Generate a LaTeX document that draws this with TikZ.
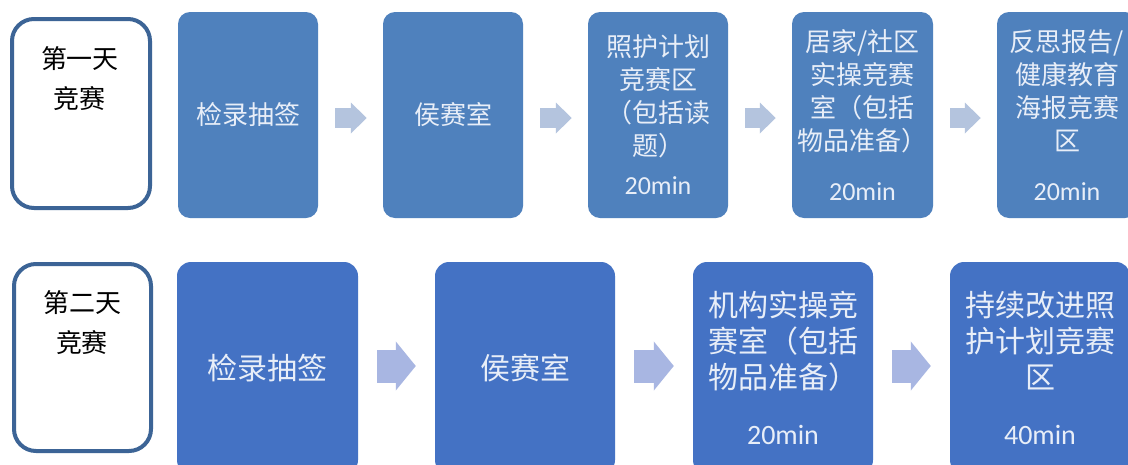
\documentclass[tikz,border=0pt]{standalone}
\usepackage{fontspec}
\setmainfont{Noto Sans CJK SC}
\newfontfamily\latinfont{Carlito}
\usetikzlibrary{positioning,arrows.meta}
\definecolor{dayblue}{HTML}{3C6496}
\definecolor{topblue}{HTML}{4F81BD}
\definecolor{botblue}{HTML}{4472C4}
\definecolor{toparrowc}{HTML}{B4C4DE}
\definecolor{botarrowc}{HTML}{A8B6E2}
\definecolor{boxtext}{HTML}{E8EEF8}

\begin{document}
\begin{tikzpicture}[x=1pt,y=-1pt,
    day/.style = {draw=dayblue, line width=4pt, rounded corners=22pt, fill=white, inner sep=0pt},
    daytext/.style = {font=\fontsize{26}{40}\selectfont, align=center, inner sep=0pt},
    topbox/.style = {fill=topblue, rounded corners=12pt, minimum width=140pt, minimum height=206pt, inner sep=0pt,
                     text=boxtext, align=center, font=\fontsize{26}{33}\selectfont},
    botbox/.style = {fill=botblue, rounded corners=14pt, minimum width=180pt, minimum height=212pt, inner sep=0pt,
                     text=boxtext, align=center, font=\fontsize{30}{36}\selectfont},
    toparrow/.style = {draw=toparrowc, line width=20pt, -{Triangle[length=16pt,width=30pt]}, shorten <=17pt, shorten >=16pt},
    botarrow/.style = {draw=botarrowc, line width=33pt, -{Triangle[length=20pt,width=48pt]}, shorten <=19pt, shorten >=19pt}]
    \useasboundingbox[fill=white] (0,0) rectangle (1128,464);

    % first day
    \node[day, minimum width=138pt, minimum height=189pt] (day1) at (81,113.5) {};
    \node[daytext] (day1txt) at (80,79) {第一天\\竞赛};
    \node[topbox] (t1) at (248,115) {检录抽签};
    \node[topbox] (t2) at (453,115) {侯赛室};
    \node[topbox] (t3) at (658,115) {照护计划\\竞赛区\\（包括读\\题）\\[6pt]{\latinfont 20min}};
    \node[topbox, minimum width=141pt] (t4) at (862.5,115) {居家/社区\\实操竞赛\\室（包括\\物品准备）\\[17pt]{\latinfont 20min}};
    \node[topbox] (t5) at (1067,115) {反思报告/\\健康教育\\海报竞赛\\区\\[17pt]{\latinfont 20min}};
    \draw[toparrow] ([yshift=-3pt]t1.east) -- ([yshift=-3pt]t2.west);
    \draw[toparrow] ([yshift=-3pt]t2.east) -- ([yshift=-3pt]t3.west);
    \draw[toparrow] ([yshift=-3pt]t3.east) -- ([yshift=-3pt]t4.west);
    \draw[toparrow] ([yshift=-3pt]t4.east) -- ([yshift=-3pt]t5.west);

    % second day
    \node[day, minimum width=137pt, minimum height=187pt] (day2) at (82.5,357.5) {};
    \node[daytext] (day2txt) at (82,322.5) {第二天\\竞赛};
    \node[botbox, minimum width=181pt] (b1) at (267.5,368) {检录抽签};
    \node[botbox] (b2) at (525,368) {侯赛室};
    \node[botbox] (b3) at (783,368) {机构实操竞\\赛室（包括\\物品准备）\\[20pt]{\latinfont\fontsize{28}{36}\selectfont 20min}};
    \node[botbox] (b4) at (1040,368) {持续改进照\\护计划竞赛\\区\\[20pt]{\latinfont\fontsize{28}{36}\selectfont 40min}};
    \draw[botarrow] ([yshift=2pt]b1.east) -- ([yshift=2pt]b2.west);
    \draw[botarrow] ([yshift=2pt]b2.east) -- ([yshift=2pt]b3.west);
    \draw[botarrow] ([yshift=2pt]b3.east) -- ([yshift=2pt]b4.west);
\end{tikzpicture}
\end{document}
